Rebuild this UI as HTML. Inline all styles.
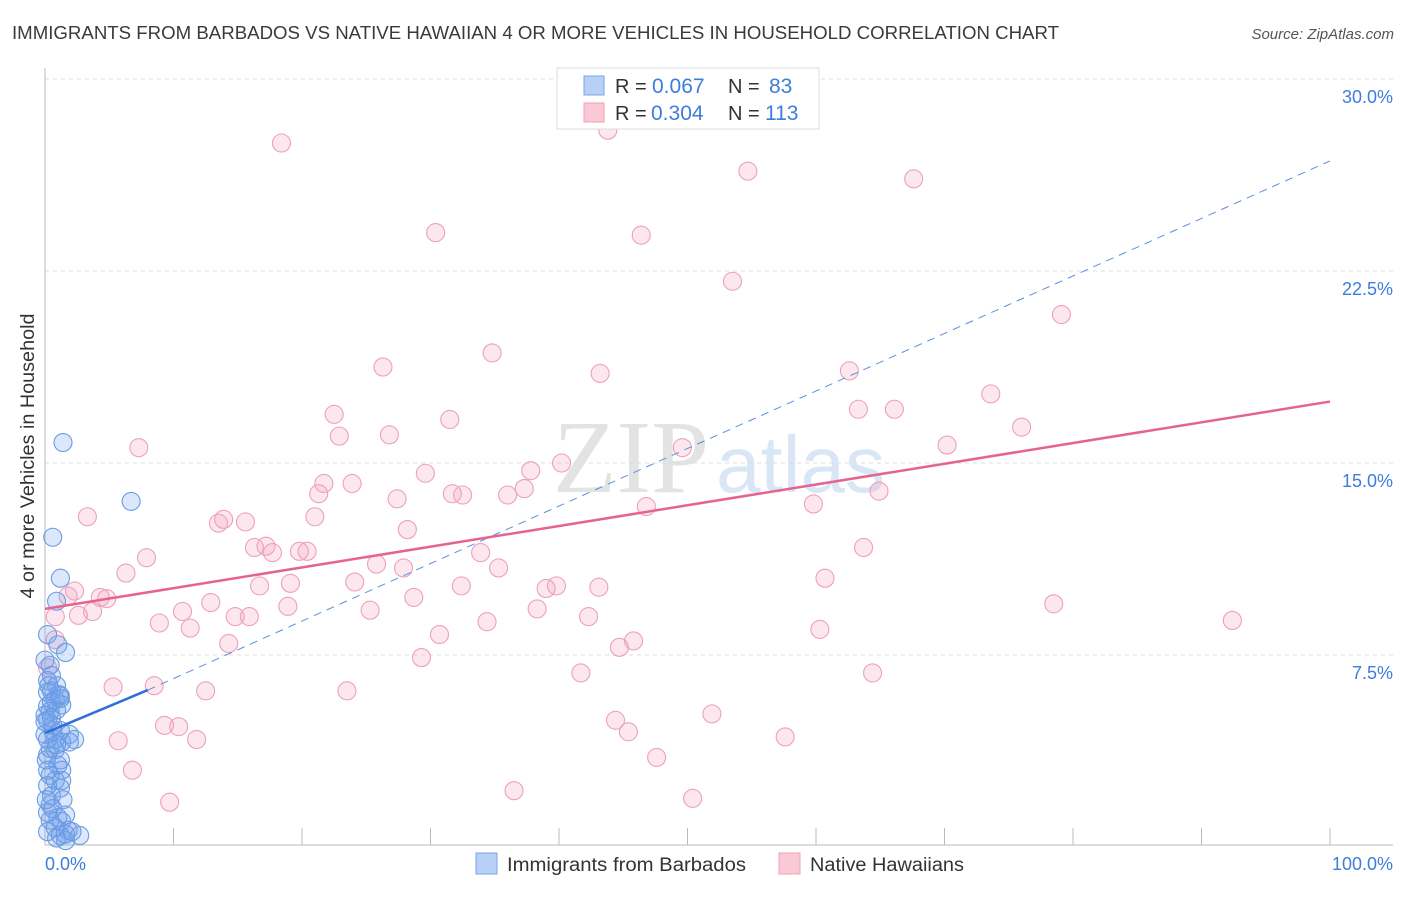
<!DOCTYPE html>
<html><head><meta charset="utf-8"><style>
body{margin:0;background:#fff;font-family:"Liberation Sans",sans-serif;}
</style></head><body>
<svg id="chart" width="1406" height="892" viewBox="0 0 1406 892" xmlns="http://www.w3.org/2000/svg">
<text x="12" y="39" font-size="18" fill="#3a3a3a" textLength="1047" lengthAdjust="spacingAndGlyphs">IMMIGRANTS FROM BARBADOS VS NATIVE HAWAIIAN 4 OR MORE VEHICLES IN HOUSEHOLD CORRELATION CHART</text>
<text x="1394" y="39" font-size="15" fill="#555" text-anchor="end" font-style="italic">Source: ZipAtlas.com</text>
<g>
<text x="553" y="492" font-size="104" font-family="Liberation Serif, serif" fill="#ddd" opacity="0.8">ZIP</text>
<text x="716" y="492" font-size="80" fill="#c8dcf3" opacity="0.7">atlas</text>
</g>
<g id="grid"></g>
<g id="axes"></g>
<g id="pts"></g>
<g id="trends"></g>
<text transform="translate(34,456) rotate(-90)" font-size="19" fill="#333" text-anchor="middle" textLength="285" lengthAdjust="spacingAndGlyphs">4 or more Vehicles in Household</text>
<text x="45" y="870" font-size="18" fill="#3d7ddb">0.0%</text>
<text x="1393" y="870" font-size="18" fill="#3d7ddb" text-anchor="end">100.0%</text>
<g>
<rect x="557" y="68" width="262" height="61" fill="#fff" stroke="#ddd"/>
<rect x="584" y="76" width="20" height="19" fill="#b8d0f5" stroke="#7aa5e8"/>
<rect x="584" y="103" width="20" height="19" fill="#fbc8d6" stroke="#f0a0b8"/>
<text x="615" y="93" font-size="20" fill="#333">R =<tspan x="652" fill="#3d7ddb" font-size="21">0.067</tspan><tspan x="728">N =</tspan><tspan x="769" fill="#3d7ddb" font-size="21">83</tspan></text>
<text x="615" y="120" font-size="20" fill="#333">R =<tspan x="651" fill="#3d7ddb" font-size="21">0.304</tspan><tspan x="728">N =</tspan><tspan x="765" fill="#3d7ddb" font-size="21">113</tspan></text>
</g>
<g>
<rect x="476" y="853" width="21" height="21" fill="#b8d0f5" stroke="#7aa5e8"/>
<text x="507" y="871" font-size="19" fill="#333" textLength="239" lengthAdjust="spacingAndGlyphs">Immigrants from Barbados</text>
<rect x="779" y="853" width="21" height="21" fill="#fbc8d6" stroke="#f0a0b8"/>
<text x="810" y="871" font-size="19" fill="#333" textLength="154" lengthAdjust="spacingAndGlyphs">Native Hawaiians</text>
</g>
</svg>
<script>
const yTicks=[7.5,15,22.5,30];
const yTickLabels=["7.5%","15.0%","22.5%","30.0%"];
const xTicks=[10,20,30,40,50,60,70,80,90,100];
const blueX=[1.4,6.7,0.6,1.2,0.9,0.2,1.0,1.6,0.4,0.5,0.2,0.9,0.2,1.2,0.5,0.2,0.8,1.3,0.4,0.2,0.6,1.2,0,0.8,1.9,2.3,1.3,0.4,0.2,1.0,1.3,0.4,0.8,0.2,1.2,0.5,1.4,0.4,0.2,1.0,1.3,0.8,1.8,0.2,1.2,2.7,0.9,1.6,0.4,0.1,0.9,1.9,0.5,0,0.6,1.3,0.8,0.2,0,1.2,0.3,0.9,1.6,0.6,1.6,2.1,0.1,0.2,1.2,0,1.1,0.5];
const blueY=[15.8,13.5,12.1,10.5,9.6,8.3,7.9,7.6,7.1,6.7,6.5,6.3,6.05,5.9,5.65,5.5,5.75,5.55,5.3,4.95,4.75,4.55,4.4,4.2,4.4,4.2,4.1,3.85,3.6,3.2,3.0,2.8,2.6,2.4,2.3,2.0,1.85,1.65,1.35,1.15,1.0,0.75,0.65,0.6,0.45,0.45,0.35,0.25,1.05,3.4,5.35,4.1,6.1,5.15,4.55,2.6,3.8,4.2,7.3,5.8,6.3,4.0,1.25,1.5,0.5,0.6,1.85,3.0,3.4,4.9,5.95,5.05];
const pinkX=[18.4,43.8,41.5,54.7,67.6,30.4,46.4,53.5,79.1,34.8,26.3,43.2,62.6,73.6,22.5,31.5,63.3,66.1,22.9,26.8,76.0,70.2,7.3,49.6,40.2,29.6,37.8,21.7,23.9,21.3,31.7,32.5,36.0,37.3,27.4,46.8,59.8,64.9,3.3,21.0,13.5,13.9,15.6,28.2,16.3,17.2,17.7,19.8,20.4,63.7,7.9,33.9,25.8,27.9,6.3,35.3,16.7,19.1,24.1,32.4,39.0,39.8,43.1,60.7,2.3,4.3,4.8,1.8,0.8,2.6,3.7,10.7,12.9,14.8,15.9,25.3,28.7,78.5,8.9,11.3,18.9,34.4,38.3,42.3,92.4,30.7,14.3,45.8,44.7,60.3,29.3,41.7,64.4,8.5,5.3,12.5,23.5,51.9,44.4,9.3,10.4,45.4,5.7,11.8,57.6,47.6,6.8,36.5,50.4,9.7,0.8,0.2];
const pinkY=[27.5,28.0,29.5,26.4,26.1,24.0,23.9,22.1,20.8,19.3,18.75,18.5,18.6,17.7,16.9,16.7,17.1,17.1,16.05,16.1,16.4,15.7,15.6,15.6,15.0,14.6,14.7,14.2,14.2,13.8,13.8,13.75,13.75,14.0,13.6,13.3,13.4,13.9,12.9,12.9,12.65,12.8,12.7,12.4,11.7,11.75,11.5,11.55,11.55,11.7,11.3,11.5,11.05,10.9,10.7,10.9,10.2,10.3,10.35,10.2,10.1,10.2,10.15,10.5,10.0,9.75,9.7,9.8,9.0,9.05,9.2,9.2,9.55,9.0,9.0,9.25,9.75,9.5,8.75,8.55,9.4,8.8,9.3,9.0,8.85,8.3,7.95,8.05,7.8,8.5,7.4,6.8,6.8,6.3,6.25,6.1,6.1,5.2,4.95,4.75,4.7,4.5,4.15,4.2,4.3,3.5,3.0,2.2,1.9,1.75,8.1,7.0];
const blueTrend=[4.45,6.13,26.8];
const blueTrendX=[0,8,100];
const pinkTrend=[9.3,17.4];
const pinkTrendX=[0,100];

const NS="http://www.w3.org/2000/svg";
const sx=v=>45+v*12.85;
const sy=v=>847-v*25.6;
function mk(tag,attrs,parent){const e=document.createElementNS(NS,tag);for(const k in attrs)e.setAttribute(k,attrs[k]);document.getElementById(parent).appendChild(e);return e;}

yTicks.forEach((t,i)=>{
  const l=mk('line',{x1:45,x2:1393,y1:sy(t),y2:sy(t),stroke:'#ddd','stroke-dasharray':'4,4'},'grid');
  
  
  const tx=mk('text',{x:1393,y:sy(t)+24,'font-size':18,fill:'#3d7ddb','text-anchor':'end'},'grid');
  tx.textContent=yTickLabels[i];
  
  
});
const ax=mk('line',{x1:45,x2:45,y1:68,y2:845,stroke:'#bbb'},'axes');


const bx=mk('line',{x1:45,x2:1393,y1:845,y2:845,stroke:'#bbb'},'axes');


xTicks.forEach(t=>{
  const l=mk('line',{x1:sx(t),x2:sx(t),y1:828,y2:845,stroke:'#bbb'},'axes');
  
  
});
pinkX.forEach((x,i)=>{
  const c=mk('circle',{cx:sx(x),cy:sy(pinkY[i]),r:9,fill:'rgba(245,160,190,0.25)',stroke:'#eda0ba','stroke-width':1.1},'pts');
  
  
});
blueX.forEach((x,i)=>{
  const c=mk('circle',{cx:sx(x),cy:sy(blueY[i]),r:9,fill:'rgba(110,160,235,0.25)',stroke:'#6a9be3','stroke-width':1.1},'pts');
  
  
});
const bs=mk('line',{x1:sx(blueTrendX[0]),y1:sy(blueTrend[0]),x2:sx(blueTrendX[1]),y2:sy(blueTrend[1]),stroke:'#2f6fdb','stroke-width':2.5},'trends');


const bd=mk('line',{x1:sx(blueTrendX[1]),y1:sy(blueTrend[1]),x2:sx(blueTrendX[2]),y2:sy(blueTrend[2]),stroke:'#5b8fe0','stroke-width':1,'stroke-dasharray':'8,6'},'trends');


const pl=mk('line',{x1:sx(pinkTrendX[0]),y1:sy(pinkTrend[0]),x2:sx(pinkTrendX[1]),y2:sy(pinkTrend[1]),stroke:'#e5648f','stroke-width':2.5},'trends');


</script>
</body></html>
